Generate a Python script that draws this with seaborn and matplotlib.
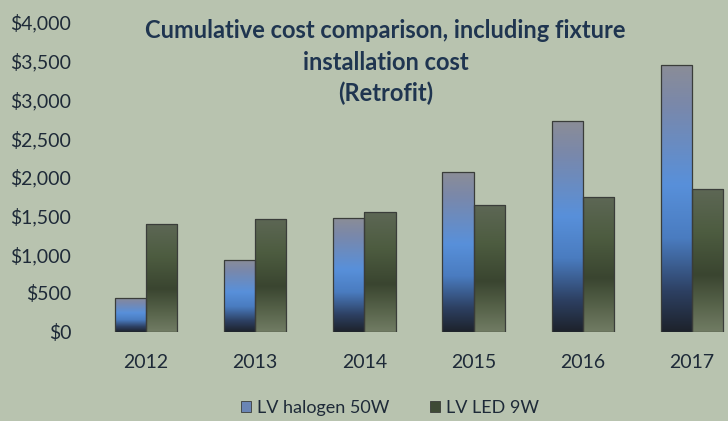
"""Cumulative cost comparison bar chart (retrofit)."""

import numpy as np
import pandas as pd
import matplotlib
matplotlib.use("Agg")
import matplotlib.pyplot as plt
import seaborn as sns
from matplotlib.colors import LinearSegmentedColormap
from matplotlib.patches import Patch
from matplotlib.ticker import FuncFormatter

years = ["2012", "2013", "2014", "2015", "2016", "2017"]
halogen_cost = [440, 930, 1470, 2065, 2725, 3450]
led_cost = [1385, 1460, 1540, 1640, 1740, 1845]
series_names = ["LV halogen 50W", "LV LED 9W"]
title_lines = [
    "Cumulative cost comparison, including fixture",
    "installation cost",
    "(Retrofit)",
]

BG = "#b8c3af"
TEXT = "#1e2a38"
TITLE = "#1f3550"

df = pd.DataFrame({
    "Year": years * 2,
    "Cost": halogen_cost + led_cost,
    "Series": [series_names[0]] * len(years) + [series_names[1]] * len(years),
})

# vertical fills, top -> bottom
halogen_cmap = LinearSegmentedColormap.from_list("hal", [
    (0.0, "#8b8d97"), (0.15, "#7a88aa"), (0.45, "#5890da"),
    (0.65, "#4a7cc0"), (0.85, "#2d4062"), (1.0, "#1d222b"),
])
led_cmap = LinearSegmentedColormap.from_list("led", [
    (0.0, "#5d6755"), (0.3, "#4d5c40"), (0.6, "#3a4530"),
    (0.82, "#58644b"), (1.0, "#717c64"),
])

sns.set_theme(style="white")
plt.rcParams["font.family"] = ["Lato", "DejaVu Sans"]

fig = plt.figure(figsize=(7.28, 4.21), dpi=100, facecolor=BG)
ax = fig.add_axes([91.5 / 728, 1 - 331.7 / 421, 655 / 728, 309.7 / 421])
ax.set_facecolor(BG)

sns.barplot(
    data=df, x="Year", y="Cost", hue="Series", order=years,
    hue_order=series_names, palette=["#5a8fd6", "#3e4a35"],
    width=0.57, gap=0, edgecolor="#3a3d3a", linewidth=0.9,
    ax=ax, legend=False,
)

grad = np.linspace(0, 1, 256)
for container, cmap in zip(ax.containers, [halogen_cmap, led_cmap]):
    for bar in container:
        x0, w, h = bar.get_x(), bar.get_width(), bar.get_height()
        img = ax.imshow(
            grad[:, None], cmap=cmap, aspect="auto", origin="upper",
            extent=[x0, x0 + w, 0, h], zorder=bar.get_zorder() + 0.1,
        )
        img.set_clip_path(bar)
        bar.set_facecolor("none")
        bar.set_zorder(bar.get_zorder() + 0.2)

ax.set_xlim(-0.5, len(years) - 0.5)
ax.set_ylim(0, 4000)
ax.set_yticks(np.arange(0, 4001, 500))
ax.yaxis.set_major_formatter(FuncFormatter(lambda v, _: f"${v:,.0f}"))
ax.set_xlabel("")
ax.set_ylabel("")
ax.tick_params(axis="y", length=0, pad=14.5, labelsize=14, labelcolor=TEXT)
ax.tick_params(axis="x", length=0, pad=16, labelsize=14, labelcolor=TEXT)
sns.despine(ax=ax, left=True, bottom=True)

title_y = [31, 62, 93]
for line, y in zip(title_lines, title_y):
    fig.text(385.5 / 728, 1 - y / 421, line, ha="center", va="center",
             fontsize=17, fontweight="bold", color=TITLE)

handles = [
    Patch(facecolor="#6a85b5", edgecolor="#3a3d3a", linewidth=0.6),
    Patch(facecolor="#3e4a35", edgecolor="#3a3d3a", linewidth=0.6),
]
fig.legend(
    handles, series_names, loc="center", bbox_to_anchor=(390 / 728, 1 - 408 / 421),
    ncol=2, frameon=False, fontsize=13, handlelength=0.55, handleheight=0.55,
    handletextpad=0.3, columnspacing=2.3, labelcolor=TEXT,
)

plt.savefig("out.png", dpi=100, facecolor=BG)
plt.close()
